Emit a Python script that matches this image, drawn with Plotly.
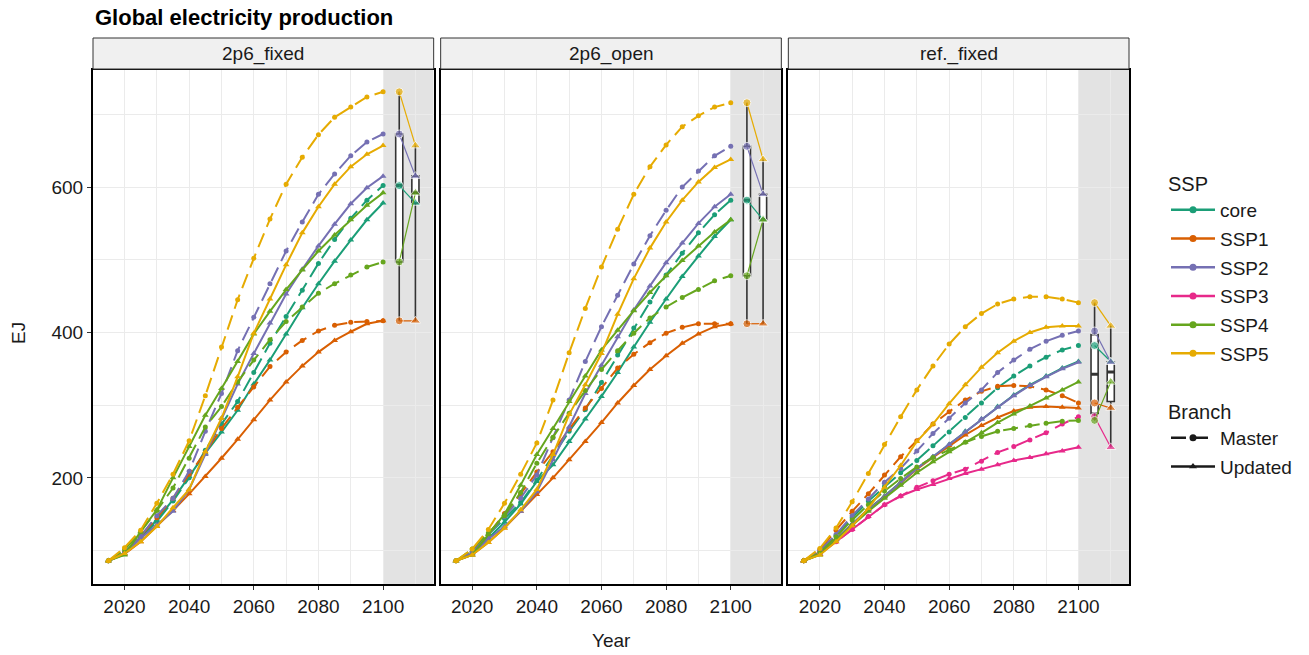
import numpy as np
import plotly.graph_objects as go

# ---------------- data ----------------
years = [2015, 2020, 2025, 2030, 2035, 2040, 2045, 2050, 2055, 2060,
         2065, 2070, 2075, 2080, 2085, 2090, 2095, 2100]
panel_names = ["2p6_fixed", "2p6_open", "ref._fixed"]
ssp_names = ["core", "SSP1", "SSP2", "SSP3", "SSP4", "SSP5"]
ssp_colors = ["#1B9E77", "#D95F02", "#7570B3", "#E7298A", "#66A61E", "#E6AB02"]
branch_names = ["Master", "Updated"]
x_ticks = [2020, 2040, 2060, 2080, 2100]
y_ticks = [200, 400, 600]

# panel 1: 2p6_fixed
p1_core_master = [86, 97, 118, 140, 168, 200, 238, 274, 305, 345, 385, 422, 458, 495, 528, 557, 582, 602]
p1_core_updated = [86, 96, 119, 142, 170, 202, 234, 263, 293, 329, 362, 398, 434, 467, 498, 527, 555, 578]
p1_ssp1_master = [86, 97, 120, 145, 172, 205, 235, 268, 297, 325, 353, 373, 389, 402, 410, 414, 415, 416]
p1_ssp1_updated = [86, 95, 112, 133, 155, 178, 202, 227, 253, 280, 307, 332, 354, 373, 389, 401, 412, 416]
p1_ssp2_master = [86, 97, 120, 148, 172, 209, 264, 316, 375, 421, 467, 512, 552, 590, 618, 643, 662, 673]
p1_ssp2_updated = [86, 95, 117, 135, 154, 184, 232, 282, 329, 371, 413, 453, 487, 519, 549, 577, 599, 615]
p1_ssp4_master = [86, 101, 126, 155, 186, 227, 270, 298, 332, 362, 390, 415, 435, 454, 467, 479, 490, 497]
p1_ssp4_updated = [86, 94, 126, 156, 200, 243, 286, 323, 360, 398, 429, 459, 486, 512, 534, 555, 575, 592]
p1_ssp5_master = [86, 104, 128, 165, 205, 251, 313, 380, 445, 502, 556, 604, 641, 672, 696, 710, 724, 731]
p1_ssp5_updated = [86, 96, 112, 133, 159, 184, 236, 282, 339, 399, 446, 493, 537, 573, 604, 628, 645, 657]

# panel 2: 2p6_open
p2_core_master = [86, 98, 122, 144, 166, 197, 230, 264, 294, 331, 369, 406, 442, 479, 509, 537, 562, 582]
p2_core_updated = [86, 96, 117, 139, 164, 195, 218, 250, 281, 312, 345, 380, 414, 446, 477, 505, 532, 555]
p2_ssp1_master = [86, 98, 122, 151, 178, 208, 236, 267, 296, 323, 351, 370, 386, 399, 407, 412, 412, 412]
p2_ssp1_updated = [86, 94, 111, 131, 154, 177, 200, 225, 250, 276, 303, 327, 349, 368, 385, 398, 408, 412]
p2_ssp2_master = [86, 98, 122, 147, 172, 204, 255, 307, 360, 408, 451, 494, 533, 568, 600, 622, 643, 656]
p2_ssp2_updated = [86, 95, 116, 133, 154, 181, 225, 270, 316, 355, 394, 431, 464, 496, 523, 550, 573, 590]
p2_ssp4_master = [86, 102, 124, 148, 180, 220, 256, 289, 320, 349, 375, 399, 420, 435, 448, 459, 471, 478]
p2_ssp4_updated = [86, 94, 122, 150, 190, 232, 268, 305, 340, 376, 403, 430, 455, 478, 499, 519, 538, 555]
p2_ssp5_master = [86, 102, 129, 165, 205, 248, 307, 372, 433, 490, 542, 590, 628, 658, 683, 698, 710, 716]
p2_ssp5_updated = [86, 94, 111, 131, 156, 184, 232, 287, 328, 371, 425, 474, 516, 552, 582, 607, 627, 638]

# panel 3: ref._fixed
p3_core_master = [86, 98, 120, 145, 168, 188, 207, 224, 244, 263, 283, 303, 324, 340, 354, 366, 376, 382]
p3_core_updated = [86, 95, 116, 137, 157, 175, 194, 213, 229, 246, 264, 281, 298, 314, 328, 340, 351, 360]
p3_ssp1_master = [86, 101, 128, 154, 178, 204, 229, 251, 274, 291, 307, 319, 326, 327, 326, 321, 313, 303]
p3_ssp1_updated = [86, 95, 116, 136, 156, 174, 193, 212, 228, 244, 259, 272, 283, 292, 297, 298, 297, 296]
p3_ssp2_master = [86, 100, 122, 148, 171, 194, 213, 237, 261, 282, 303, 321, 345, 362, 377, 388, 396, 402]
p3_ssp2_updated = [86, 95, 116, 136, 156, 174, 193, 213, 229, 246, 263, 281, 297, 313, 327, 339, 350, 359]
p3_ssp3_master = [86, 97, 112, 129, 147, 163, 175, 187, 196, 205, 212, 223, 235, 243, 252, 262, 274, 284]
p3_ssp3_updated = [86, 95, 112, 129, 147, 163, 175, 184, 191, 199, 206, 212, 218, 224, 228, 233, 237, 242]
p3_ssp4_master = [86, 97, 119, 142, 163, 182, 199, 215, 228, 239, 249, 257, 264, 268, 272, 275, 278, 279]
p3_ssp4_updated = [86, 94, 115, 135, 154, 172, 190, 207, 222, 236, 249, 262, 276, 288, 299, 310, 321, 332]
p3_ssp5_master = [86, 103, 131, 167, 206, 246, 284, 321, 354, 384, 408, 426, 439, 446, 449, 449, 446, 441]
p3_ssp5_updated = [86, 94, 112, 134, 158, 187, 217, 250, 274, 302, 328, 352, 372, 388, 400, 407, 409, 409]

panel_data = [
    {"core": (p1_core_master, p1_core_updated), "SSP1": (p1_ssp1_master, p1_ssp1_updated),
     "SSP2": (p1_ssp2_master, p1_ssp2_updated), "SSP4": (p1_ssp4_master, p1_ssp4_updated),
     "SSP5": (p1_ssp5_master, p1_ssp5_updated)},
    {"core": (p2_core_master, p2_core_updated), "SSP1": (p2_ssp1_master, p2_ssp1_updated),
     "SSP2": (p2_ssp2_master, p2_ssp2_updated), "SSP4": (p2_ssp4_master, p2_ssp4_updated),
     "SSP5": (p2_ssp5_master, p2_ssp5_updated)},
    {"core": (p3_core_master, p3_core_updated), "SSP1": (p3_ssp1_master, p3_ssp1_updated),
     "SSP2": (p3_ssp2_master, p3_ssp2_updated), "SSP3": (p3_ssp3_master, p3_ssp3_updated),
     "SSP4": (p3_ssp4_master, p3_ssp4_updated), "SSP5": (p3_ssp5_master, p3_ssp5_updated)},
]

# ---------------- layout geometry ----------------
W, H = 1309, 655
ML, MR, MT, MB = 93, 180, 70, 71
PW = W - ML - MR
PH = H - MT - MB
FONT = "Liberation Sans, Arial, sans-serif"
TXT = "#1a1a1a"
gap = 7.0
pw = (PW - 2 * gap) / 3.0
domains = []
for i in range(3):
    a = i * (pw + gap)
    domains.append([a / PW, (a + pw) / PW])

x_range = [2010.25, 2115.65]
y_range = [54, 761]
box_master_x = 2105
box_updated_x = 2110
box_w = 2.2
shade_color = "#e3e3e3"
master_dash = "15px,7px"

fig = go.Figure()
color_of = dict(zip(ssp_names, ssp_colors))

for p in range(3):
    xa = "x" if p == 0 else f"x{p+1}"
    ya = "y" if p == 0 else f"y{p+1}"
    data = panel_data[p]
    for s in ssp_names:
        if s not in data:
            continue
        m, u = data[s]
        c = color_of[s]
        fig.add_trace(go.Scatter(
            x=years, y=m, mode="lines+markers", xaxis=xa, yaxis=ya,
            line=dict(color=c, width=2, dash=master_dash),
            marker=dict(symbol="circle", size=5, color=c),
            showlegend=False, hoverinfo="skip"))
        fig.add_trace(go.Scatter(
            x=years, y=u, mode="lines+markers", xaxis=xa, yaxis=ya,
            line=dict(color=c, width=2),
            marker=dict(symbol="triangle-up", size=6, color=c),
            showlegend=False, hoverinfo="skip"))
    ends_m = [data[s][0][-1] for s in ssp_names if s in data]
    ends_u = [data[s][1][-1] for s in ssp_names if s in data]
    for xpos, vals in ((box_master_x, ends_m), (box_updated_x, ends_u)):
        q1, med, q3 = np.percentile(vals, [25, 50, 75])
        fig.add_trace(go.Box(
            x=[xpos], q1=[q1], median=[med], q3=[q3],
            lowerfence=[min(vals)], upperfence=[max(vals)],
            width=box_w, whiskerwidth=0, fillcolor="white",
            line=dict(color="#333333", width=1.6), boxpoints=False,
            xaxis=xa, yaxis=ya, showlegend=False, hoverinfo="skip"))
        fig.add_trace(go.Scatter(
            x=[xpos - box_w / 2, xpos + box_w / 2], y=[med, med], mode="lines",
            line=dict(color="#333333", width=3), xaxis=xa, yaxis=ya,
            showlegend=False, hoverinfo="skip"))
    for s in ssp_names:
        if s not in data:
            continue
        m, u = data[s]
        c = color_of[s]
        fig.add_trace(go.Scatter(
            x=[box_master_x, box_updated_x], y=[m[-1], u[-1]], mode="lines+markers",
            line=dict(color=c, width=1.2),
            marker=dict(symbol=["circle", "triangle-up"], size=[8, 9], color=c),
            xaxis=xa, yaxis=ya, showlegend=False, hoverinfo="skip"))

# legend entries
for s, c in zip(ssp_names, ssp_colors):
    fig.add_trace(go.Scatter(
        x=[None], y=[None], mode="lines+markers", name=s, legend="legend",
        legendgroup=s, line=dict(color=c, width=2.5),
        marker=dict(symbol="circle", size=7, color=c)))
for b, sym, dash in (("Master", "circle", master_dash), ("Updated", "triangle-up", "solid")):
    fig.add_trace(go.Scatter(
        x=[None], y=[None], mode="lines+markers", name=b, legend="legend2",
        legendgroup=b, line=dict(color=TXT, width=2.5, dash=dash),
        marker=dict(symbol=sym, size=7, color=TXT)))

axis_common = dict(
    showline=True, linecolor="black", linewidth=2, mirror=True,
    showgrid=True, gridcolor="#ebebeb", gridwidth=1,
    ticks="outside", ticklen=4, tickcolor="#333333", tickwidth=1,
    tickfont=dict(family=FONT, size=19, color=TXT), zeroline=False,
)

leg_common = dict(x=(1166 - ML) / PW, xanchor="left", yanchor="top", tracegroupgap=1,
                  itemwidth=44, font=dict(family=FONT, size=19, color=TXT),
                  bgcolor="rgba(0,0,0,0)")
layout = dict(
    width=W, height=H, margin=dict(l=ML, r=MR, t=MT, b=MB),
    paper_bgcolor="white", plot_bgcolor="white",
    font=dict(family=FONT, size=19, color=TXT),
    title=dict(text="<b>Global electricity production</b>", x=95 / W, xanchor="left",
               xref="container", y=1 - 17 / H, yanchor="middle", yref="container",
               font=dict(family=FONT, size=22, color="black")),
    showlegend=True,
    legend=dict(leg_common, title=dict(text="SSP", font=dict(size=20)),
                y=(H - MB - 165) / PH),
    legend2=dict(leg_common, title=dict(text="Branch", font=dict(size=20)),
                 y=(H - MB - 393) / PH),
)

shapes = []
annotations = []
for p in range(3):
    xk = "xaxis" if p == 0 else f"xaxis{p+1}"
    yk = "yaxis" if p == 0 else f"yaxis{p+1}"
    xa = "x" if p == 0 else f"x{p+1}"
    ya = "y" if p == 0 else f"y{p+1}"
    layout[xk] = dict(axis_common, domain=domains[p], range=x_range, anchor=ya,
                      tickmode="array", tickvals=x_ticks,
                      minor=dict(dtick=10, tick0=2010, showgrid=True, gridcolor="#ebebeb", gridwidth=1))
    ydict = dict(axis_common, domain=[0, 1], range=y_range, anchor=xa,
                 tickmode="array", tickvals=y_ticks,
                 minor=dict(dtick=100, tick0=0, showgrid=True, gridcolor="#ebebeb", gridwidth=1))
    if p > 0:
        ydict["matches"] = "y"
        ydict["showticklabels"] = False
        ydict["ticks"] = ""
    layout[yk] = ydict
    shapes.append(dict(type="rect", xref=xa, yref=f"{ya} domain", x0=2100, x1=x_range[1],
                       y0=0, y1=1, fillcolor=shade_color, line=dict(width=0), layer="below"))
    shapes.append(dict(type="rect", xref="paper", yref="paper", x0=domains[p][0], x1=domains[p][1],
                       y0=1 + 1 / PH, y1=(H - MB - 38) / PH, fillcolor="#f0f0f0",
                       line=dict(color="#333333", width=1)))
    annotations.append(dict(text=panel_names[p], xref="paper", yref="paper",
                            x=(domains[p][0] + domains[p][1]) / 2, y=(H - MB - 54) / PH,
                            xanchor="center", yanchor="middle", showarrow=False,
                            font=dict(family=FONT, size=19, color=TXT)))

annotations.append(dict(text="Year", xref="paper", yref="paper", x=0.5, y=(H - MB - 640) / PH,
                        xanchor="center", yanchor="middle", showarrow=False,
                        font=dict(family=FONT, size=19, color=TXT)))
annotations.append(dict(text="EJ", xref="paper", yref="paper", x=(18 - ML) / PW, y=(H - MB - 333) / PH,
                        xanchor="center", yanchor="middle", showarrow=False, textangle=-90,
                        font=dict(family=FONT, size=19, color=TXT)))
layout["shapes"] = shapes
layout["annotations"] = annotations
fig.update_layout(**layout)

fig.write_html("out.html")
